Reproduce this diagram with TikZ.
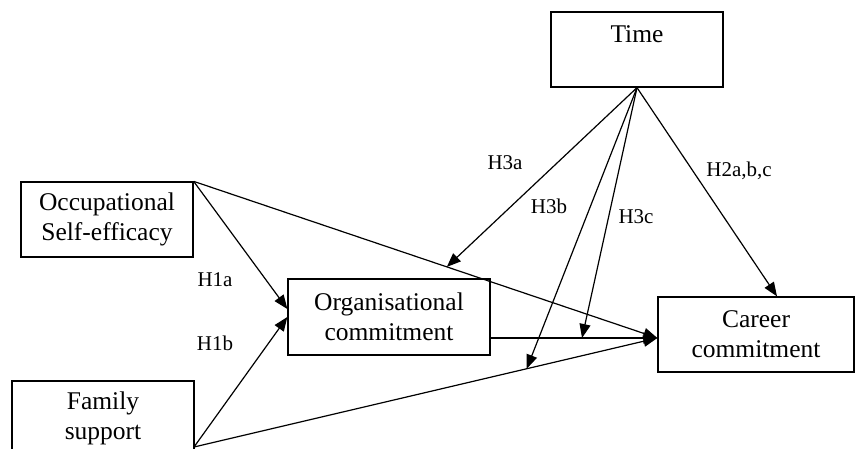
\documentclass[tikz,border=0pt]{standalone}
\usepackage{fontspec}
\setmainfont{Liberation Serif}
\usetikzlibrary{arrows.meta,calc}
\begin{document}
\begin{tikzpicture}[x=1pt,y=-1pt,
  box/.style={draw, line width=1.3pt, inner sep=0pt, align=center, font=\fontsize{25.5}{30}\selectfont},
  lbl/.style={font=\fontsize{21}{24}\selectfont, inner sep=0pt},
  arr/.style={line width=1.2pt, -{Triangle[length=14pt,width=11pt]}}]
\useasboundingbox (0,0) rectangle (858,449);
\clip (0,0) rectangle (858,449);
\node[box, minimum width=172pt, minimum height=75pt] (time) at (637,49.5) {Time\\\mbox{}};
\node[box, minimum width=172pt, minimum height=75pt] (ose) at (107,219.5) {Occupational\\Self-efficacy};
\node[box, minimum width=202pt, minimum height=76pt] (org) at (389,317) {Organisational\\commitment};
\node[box, minimum width=196pt, minimum height=75pt] (car) at (756,334.5) {Career\\commitment};
\node[box, minimum width=182pt, minimum height=74pt] (fam) at (103,418) {Family\\support};
\coordinate (ct) at ($(car.west)+(0,3.5)$);
\coordinate (fs) at (194,447);
\coordinate (oc) at (org.east |- ct);
\draw[arr] (ose.north east) -- ($(org.west)+(0,-8)$);
\draw[arr] (fs) -- (org.west);
\draw[arr] (ose.north east) -- (ct);
\draw[arr] (fs) -- (ct);
\draw[arr] (oc) -- (ct);
\draw[arr] (time.south) -- ($(ose.north east)!0.546!(ct)$);
\draw[arr] (time.south) -- ($(fs)!0.718!(ct)$);
\draw[arr] (time.south) -- ($(oc)!0.548!(ct)$);
\draw[arr] (time.south) -- ($(car.north)+(21,0)$);
\node[lbl] (h1a) at (215,280) {H1a};
\node[lbl] (h1b) at (215,343) {H1b};
\node[lbl] (h3a) at (505,163) {H3a};
\node[lbl] (h3b) at (549,206) {H3b};
\node[lbl] (h3c) at (636,217) {H3c};
\node[lbl] (h2) at (739,171) {H2a,b,c};
\end{tikzpicture}
\end{document}
